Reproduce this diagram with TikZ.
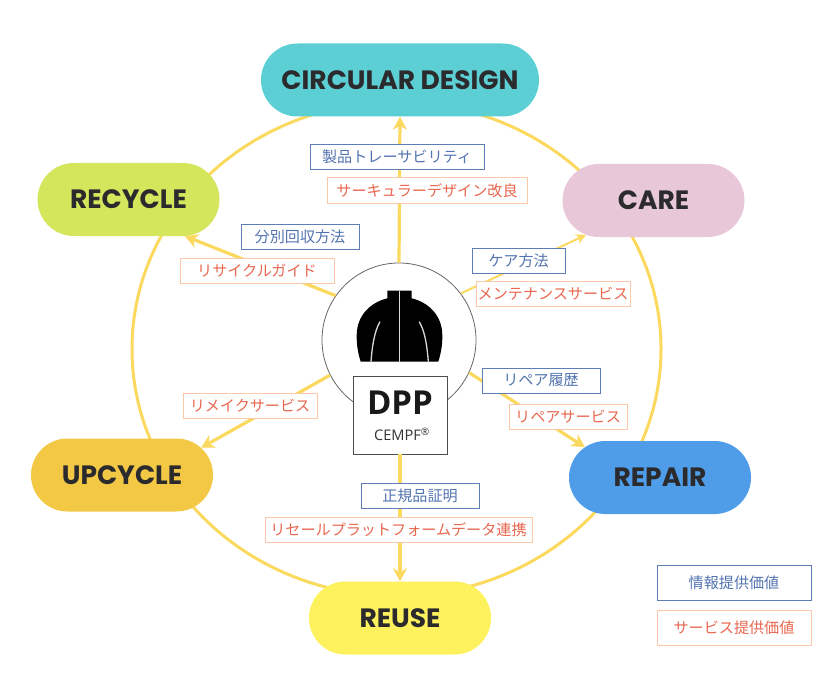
\documentclass[tikz,border=0pt]{standalone}
\usepackage{fontspec}
\setmainfont{Noto Sans CJK JP}
\newfontfamily\pillfont{Poppins}
\newfontfamily\dppfont{Open Sans}
\usetikzlibrary{arrows.meta,shapes.misc}

\definecolor{ringyellow}{HTML}{FBD95E}
\definecolor{infoblue}{HTML}{5E7DB5}
\definecolor{infotext}{HTML}{5374B0}
\definecolor{serviceline}{HTML}{FBC8A8}
\definecolor{servicetext}{HTML}{E8674F}
\definecolor{pilltext}{HTML}{2B2B2E}
\definecolor{designfill}{HTML}{5CCFD4}
\definecolor{recyclefill}{HTML}{D4E65C}
\definecolor{carefill}{HTML}{E8C8D8}
\definecolor{upcyclefill}{HTML}{F3C845}
\definecolor{repairfill}{HTML}{4F9CE8}
\definecolor{reusefill}{HTML}{FDF25D}

\tikzset{
	pill/.style={rounded rectangle, rounded rectangle arc length=180, minimum width=182pt, minimum height=73pt, inner sep=0pt, text=pilltext, font=\pillfont\bfseries\fontsize{26.5}{30}\selectfont},
	ring/.style={draw=ringyellow, line width=3pt},
	flow/.style={draw=ringyellow, line width=3.2pt, -{Stealth[length=13pt,width=14pt,inset=4pt]}},
	thinflow/.style={draw=ringyellow, line width=2pt, -{Stealth[length=10pt,width=10pt,inset=3pt]}},
	infobox/.style={draw=infoblue, line width=1pt, fill=white, text=infotext, minimum height=25pt, inner sep=0pt, font=\fontsize{15.1}{17}\selectfont},
	servicebox/.style={draw=serviceline, line width=1pt, fill=white, text=servicetext, minimum height=25pt, inner sep=0pt, font=\fontsize{15.1}{17}\selectfont}
}

\begin{document}
\begin{tikzpicture}[x=1pt,y=-1pt]
	\useasboundingbox (0,0) rectangle (840,687);

	% The Ring
	\draw[ring] (396.5,349) ellipse (264.5 and 247);

	% Stages
	\node[pill, fill=designfill, minimum width=278pt] (design) at (400,80) {CIRCULAR DESIGN};
	\node[pill, fill=recyclefill] (recycle) at (128.5,199.5) {RECYCLE};
	\node[pill, fill=carefill] (care) at (653.5,200.5) {CARE};
	\node[pill, fill=upcyclefill] (upcycle) at (122,475) {UPCYCLE};
	\node[pill, fill=repairfill] (repair) at (660,477.5) {REPAIR};
	\node[pill, fill=reusefill] (reuse) at (400,618) {REUSE};

	% The Hub
	\node[circle, draw=black!60, line width=.8pt, fill=white, minimum size=154pt, inner sep=0pt] (hub) at (399,340) {};
	\node[draw=black!70, line width=.8pt, fill=white, minimum width=94pt, minimum height=78pt, inner sep=0pt] (dpp) at (400,415) {};
	\node[font=\dppfont\bfseries\fontsize{33}{36}\selectfont, text=black!90, inner sep=0pt] (dpptitle) at (400,403) {DPP};
	\node[font=\dppfont\fontsize{14.6}{16}\selectfont, text=black!80, inner sep=0pt] (dppname) at (402,434) {CEMPF\textsuperscript{\textregistered}};

	% Connectors
	\draw[flow] (hub.90) -- (design.south);
	\draw[flow] (hub.145) -- (recycle.-33.6);
	\draw[thinflow] (hub.37.6) -- (care.207);
	\draw[flow] (hub.-25) -- (repair.158.6);
	\draw[flow] (hub.207) -- (upcycle.19.7);
	\draw[flow] (dpp.south) -- (reuse.north);

	% The Jacket
	\fill[black] (387.3,290.7) -- (411.7,290.7) -- (411.7,298.3)
		.. controls (427,302) and (442,314) .. (442.3,335)
		.. controls (442.5,345) and (441,353) .. (438.3,361.7)
		-- (360.7,361.7)
		.. controls (358,353) and (356.5,345) .. (356.7,335)
		.. controls (357,314) and (372,302) .. (387.3,298.3) -- cycle;
	\draw[white!85!black, line width=1.2pt] (399.5,290.7) -- (399.5,361.7);
	\draw[white!85!black, line width=1.3pt] (380,321.7) .. controls (374,332) and (372,348) .. (371,361.7);
	\draw[white!85!black, line width=1.3pt] (419.3,321.7) .. controls (425.3,332) and (427.3,348) .. (428.3,361.7);

	% Labels
	\node[infobox, minimum width=174pt] (traceinfo) at (397,157) {製品トレーサビリティ};
	\node[servicebox, minimum width=200pt] (designservice) at (427,190.5) {サーキュラーデザイン改良};
	\node[infobox, minimum width=118pt] (sortinfo) at (300,236.5) {分別回収方法};
	\node[servicebox, minimum width=154pt] (recycleservice) at (257,270.5) {リサイクルガイド};
	\node[infobox, minimum width=93pt] (careinfo) at (518.5,260.5) {ケア方法};
	\node[servicebox, minimum width=154pt] (careservice) at (553,293.5) {メンテナンスサービス};
	\node[infobox, minimum width=118pt] (repairinfo) at (541,380.5) {リペア履歴};
	\node[servicebox, minimum width=118pt] (repairservice) at (568,416.5) {リペアサービス};
	\node[servicebox, minimum width=134pt] (remakeservice) at (250,405.5) {リメイクサービス};
	\node[infobox, minimum width=118pt] (authinfo) at (420,495.5) {正規品証明};
	\node[servicebox, minimum width=267pt] (resaleservice) at (398.5,530) {リセールプラットフォームデータ連携};

	% Legend
	\node[infobox, minimum width=154pt, minimum height=35pt] (infolegend) at (734,582.5) {情報提供価値};
	\node[servicebox, minimum width=154pt, minimum height=35pt] (servicelegend) at (734,628) {サービス提供価値};
\end{tikzpicture}
\end{document}
